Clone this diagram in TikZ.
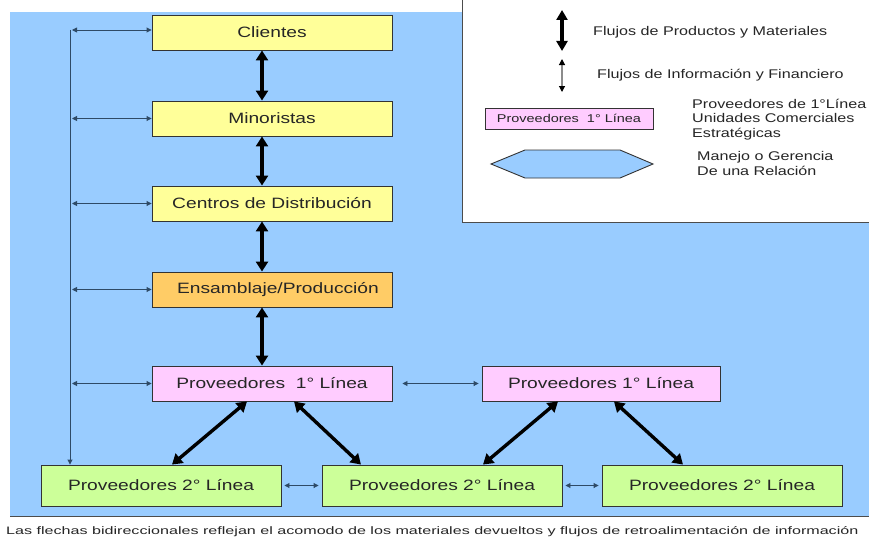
\documentclass[tikz,border=0pt]{standalone}
\usepackage{fontspec}
\setmainfont[FakeStretch=1.28]{Liberation Sans}
\usetikzlibrary{arrows.meta,shapes.geometric}

\definecolor{bgblue}{HTML}{99CCFF}
\definecolor{yellowbox}{HTML}{FFFF99}
\definecolor{orangebox}{HTML}{FFCC66}
\definecolor{pinkbox}{HTML}{FFCCFF}
\definecolor{greenbox}{HTML}{CCFF99}
\definecolor{thinline}{HTML}{2E4A66}
\definecolor{boxtext}{HTML}{262626}

\tikzset{
  box/.style={draw=black!80, line width=0.9pt, minimum width=240pt,
    minimum height=35pt, inner sep=0pt, text=boxtext,
    font=\fontsize{15}{17}\selectfont},
  lowbox/.style={box, minimum height=41pt, fill=greenbox},
  bigarrow/.style={line width=3.4pt, black,
    {Triangle[width=12pt,length=10pt]}-{Triangle[width=12pt,length=10pt]}},
  smallarrow/.style={line width=0.9pt, thinline,
    {Triangle[width=5pt,length=5pt]}-{Triangle[width=5pt,length=5pt]}},
  legendtext/.style={anchor=west, inner sep=0pt, text=boxtext,
    font=\fontsize{12.6}{14.2}\selectfont, align=left},
}

\begin{document}
\begin{tikzpicture}[x=1pt,y=-1pt]
\useasboundingbox (0,0) rectangle (869,543);
\clip (0,0) rectangle (869,543);

% background panels
\fill[white] (0,0) rectangle (869,543);
\fill[bgblue] (10,12) rectangle (869,516);
\draw[black!70, line width=1pt] (10,516) -- (869,516);
\fill[white] (462,0) rectangle (869,222);
\draw[black!70, line width=1pt] (462,0) -- (462,222) -- (869,222);

% supply chain stages
\node[box, fill=yellowbox] (cli) at (272,32.5) {Clientes};
\node[box, fill=yellowbox] (min) at (272,118.5) {Minoristas};
\node[box, fill=yellowbox] (cdd) at (272,203.5) {Centros de Distribución};
\node[box, fill=orangebox] (ens) at (272,289.5) {\hspace{12pt}Ensamblaje/Producción};
\node[box, fill=pinkbox] (p1a) at (272,383.5) {Proveedores\ \ 1° Línea};
\node[box, fill=pinkbox, minimum width=238pt] (p1b) at (601,383.5) {Proveedores 1° Línea};
\node[lowbox] (p2a) at (161,485.5) {Proveedores 2° Línea};
\node[lowbox] (p2b) at (442,485.5) {Proveedores 2° Línea};
\node[lowbox] (p2c) at (722,485.5) {Proveedores 2° Línea};

% product and material flows
\draw[bigarrow] ([xshift=-10pt]cli.south) -- ([xshift=-10pt]min.north);
\draw[bigarrow] ([xshift=-10pt]min.south) -- ([xshift=-10pt]cdd.north);
\draw[bigarrow] ([xshift=-10pt]cdd.south) -- ([xshift=-10pt]ens.north);
\draw[bigarrow] ([xshift=-10pt]ens.south) -- ([xshift=-10pt]p1a.north);
\draw[bigarrow] ([xshift=-25pt]p1a.south) -- ([xshift=11pt]p2a.north);
\draw[bigarrow] ([xshift=22pt]p1a.south) -- ([xshift=-81pt]p2b.north);
\draw[bigarrow] ([xshift=-43pt]p1b.south) -- ([xshift=41pt]p2b.north);
\draw[bigarrow] ([xshift=13pt]p1b.south) -- ([xshift=-39pt]p2c.north);

% information and financial flows
\coordinate (corner) at (70,30);
\draw[line width=0.9pt, thinline, -{Triangle[width=5pt,length=5pt]}]
  (corner) -- (corner |- p2a.north);
\draw[smallarrow] ([xshift=2pt]corner) -- (cli.west |- corner);
\draw[smallarrow] ([xshift=2pt]corner |- min.west) -- (min.west);
\draw[smallarrow] ([xshift=2pt]corner |- cdd.west) -- (cdd.west);
\draw[smallarrow] ([xshift=2pt]corner |- ens.west) -- (ens.west);
\draw[smallarrow] ([xshift=2pt]corner |- p1a.west) -- (p1a.west);
\draw[smallarrow] ([xshift=10pt]p1a.east) -- ([xshift=-3pt]p1b.west);
\draw[smallarrow] ([xshift=3pt]p2a.east) -- ([xshift=-3pt]p2b.west);
\draw[smallarrow] ([xshift=3pt]p2b.east) -- ([xshift=-3pt]p2c.west);

% legend
\coordinate (lgA1) at (562,10);
\coordinate (lgA2) at (562,51);
\draw[line width=3.4pt, black,
  {Triangle[width=11pt,length=10pt]}-{Triangle[width=11pt,length=10pt]}] (lgA1) -- (lgA2);
\node[legendtext] (lgT1) at (593,32) {Flujos de Productos y Materiales};

\coordinate (lgB1) at (562,59);
\coordinate (lgB2) at (562,92);
\draw[line width=1.2pt, black!45,
  {Triangle[width=6pt,length=6pt,color=black,fill=black]}-{Triangle[width=6pt,length=6pt,color=black,fill=black]}] (lgB1) -- (lgB2);
\node[legendtext] (lgT2) at (597,75) {Flujos de Información y Financiero};

\node[draw=black!80, line width=0.9pt, fill=pinkbox, minimum width=168pt,
  minimum height=21pt, inner sep=0pt, text=boxtext,
  font=\fontsize{11.3}{13}\selectfont] (lgbox) at (569,118.5) {Proveedores\ \ 1° Línea};
\node[legendtext] (lgT3) at (692,119.5)
  {Proveedores de 1°Línea\\Unidades Comerciales\\Estratégicas};

\path[draw=black!80, line width=0.9pt, fill=bgblue]
  (491,164) -- (525,150) -- (620,150) -- (653,164) -- (620,178) -- (525,178) -- cycle;
\node[legendtext] (lgT4) at (697,163.5) {Manejo o Gerencia\\De una Relación};

% caption, set wide
\node[anchor=west, inner sep=0pt, text=boxtext, font=\fontsize{10.8}{12}\selectfont]
  (cap) at (6,532) {\scalebox{1.165}[1]{Las flechas bidireccionales reflejan el acomodo de los materiales devueltos y flujos de retroalimentación de información}};
\end{tikzpicture}
\end{document}
